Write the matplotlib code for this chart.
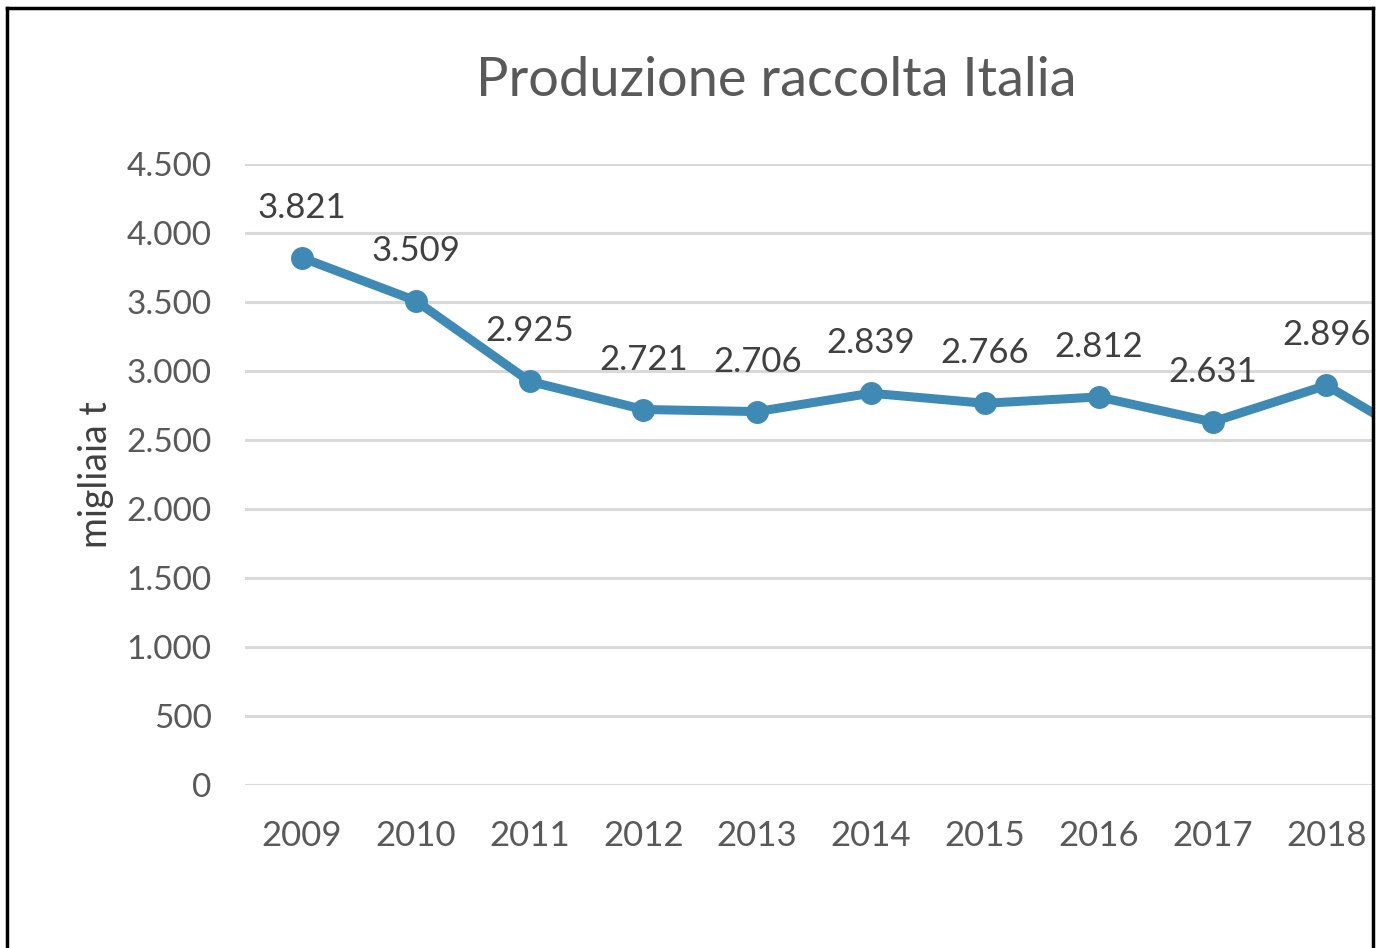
import matplotlib
matplotlib.use("Agg")
import matplotlib.pyplot as plt
from matplotlib.lines import Line2D

# dati: produzione raccolta Italia (migliaia di tonnellate)
anni = ["2009", "2010", "2011", "2012", "2013", "2014", "2015", "2016", "2017", "2018", "2019"]
valori = [3821, 3509, 2925, 2721, 2706, 2839, 2766, 2812, 2631, 2896, 2410]
yticks = [0, 500, 1000, 1500, 2000, 2500, 3000, 3500, 4000, 4500]

plt.rcParams['font.family'] = ['Lato', 'DejaVu Sans']

W, H = 1381, 948
fig = plt.figure(figsize=(W / 100, H / 100), dpi=100)
ax = fig.add_axes([245 / W, 1 - 785 / H, (1373 - 245) / W, (785 - 164) / H])

def fmt(v):
    return f"{v:,.0f}".replace(",", ".")

x = list(range(len(anni)))
ax.plot(x, valori, color="#3F8AB5", lw=6.5, marker="o", ms=15.5,
        solid_joinstyle="round", zorder=3)

ax.set_yticks(yticks)
ax.set_yticklabels([fmt(v) for v in yticks])
ax.set_xticks(x)
ax.set_xticklabels(anni)
# il grafico originale e' tagliato a destra: il 2019 resta fuori
ax.set_xlim(-0.5, 9.41)
ax.set_ylim(0, 4500)

# etichette dati
for xi, v in zip(x, valori):
    ax.annotate(fmt(v), (xi, v), xytext=(0, 36), textcoords="offset points",
                ha="center", va="center", fontsize=25, color="#404040",
                annotation_clip=True)

ax.tick_params(axis="both", length=0, labelsize=24, labelcolor="#595959")
ax.tick_params(axis="y", pad=24)
ax.tick_params(axis="x", pad=25)
ax.set_xticklabels(anni, fontsize=25)
ax.grid(axis="y", color="#D9D9D9", lw=2.2)
ax.set_axisbelow(True)
for s in ax.spines.values():
    s.set_visible(False)

ax.set_ylabel("migliaia t", fontsize=27, color="#404040", labelpad=9)

fig.text(776 / W, 1 - 80 / H, "Produzione raccolta Italia", ha="center",
         va="center", fontsize=39, color="#595959")

# cornice
for xs, ys in [([7, 7], [8, 948]), ([7, 1373], [8, 8]), ([1373, 1373], [8, 948])]:
    fig.add_artist(Line2D([v / W for v in xs], [1 - v / H for v in ys],
                          color="black", lw=2.5, transform=fig.transFigure))

fig.savefig("out.png", dpi=100)
